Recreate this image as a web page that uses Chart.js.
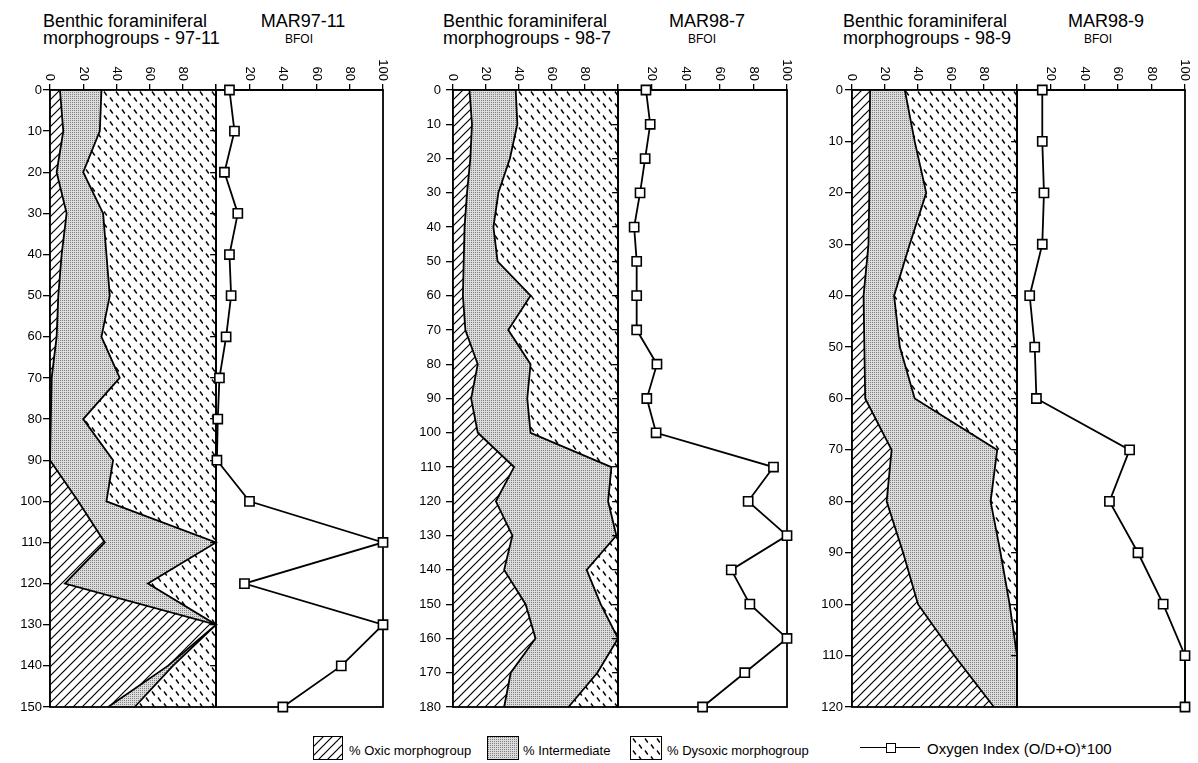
<!DOCTYPE html>
<html>
<head>
<meta charset="utf-8">
<title>Benthic foraminiferal morphogroups and BFOI</title>
<script src="https://cdn.jsdelivr.net/npm/chart.js@4.4.1/dist/chart.umd.min.js"></script>
<style>
  body { margin: 0; background: #fff; }
  #fig { position: relative; width: 1198px; height: 763px; overflow: hidden;
         font-family: "Liberation Sans", Arial, Helvetica, sans-serif; color: #000; }
  #fig canvas { position: absolute; }
  .title { position: absolute; font-size: 18px; line-height: 17px; white-space: nowrap; }
  .core { position: absolute; width: 200px; text-align: center; font-size: 18px; line-height: 17px; }
  .sub { position: absolute; width: 100px; text-align: center; font-size: 12px; line-height: 14px; }
  .swatch { position: absolute; top: 736px; height: 22px; border: 1.5px solid #000; box-sizing: content-box; }
  .leg { position: absolute; top: 744px; font-size: 13px; line-height: 13px; white-space: nowrap; }
</style>
</head>
<body>
<div id="fig">
  <div class="title" style="left:43px;top:13px">Benthic foraminiferal<br>morphogroups - 97-11</div>
  <div class="core" style="left:203px;top:13px">MAR97-11</div>
  <div class="sub" style="left:249px;top:32px">BFOI</div>

  <div class="title" style="left:443px;top:13px">Benthic foraminiferal<br>morphogroups - 98-7</div>
  <div class="core" style="left:607px;top:13px">MAR98-7</div>
  <div class="sub" style="left:652px;top:32px">BFOI</div>

  <div class="title" style="left:843px;top:13px">Benthic foraminiferal<br>morphogroups - 98-9</div>
  <div class="core" style="left:1006px;top:13px">MAR98-9</div>
  <div class="sub" style="left:1048px;top:32px">BFOI</div>

  <canvas id="m1"></canvas><canvas id="b1"></canvas>
  <canvas id="m2"></canvas><canvas id="b2"></canvas>
  <canvas id="m3"></canvas><canvas id="b3"></canvas>

  <div class="swatch" id="sw1" style="left:313px;width:28px"></div>
  <div class="leg" style="left:349px">% Oxic morphogroup</div>
  <div class="swatch" id="sw2" style="left:487px;width:30px"></div>
  <div class="leg" style="left:523px">% Intermediate</div>
  <div class="swatch" id="sw3" style="left:630px;width:30px"></div>
  <div class="leg" style="left:667px">% Dysoxic morphogroup</div>
  <div style="position:absolute;left:860px;top:747px;width:60px;border-top:1.5px solid #000"></div>
  <div style="position:absolute;left:886px;top:743px;width:8px;height:8px;border:1.5px solid #000;background:#fff"></div>
  <div class="leg" style="left:927px;top:741px;font-size:15px;line-height:15px">Oxygen Index (O/D+O)*100</div>
</div>

<script>
const FONT = '"Liberation Sans", Arial, Helvetica, sans-serif'

// MAR97-11, sample depths (cm) and morphogroup percentages
const depths9711 = [0, 10, 20, 30, 40, 50, 60, 70, 80, 90, 100, 110, 120, 130, 140, 150]
const oxic9711   = [6, 8, 4, 10, 7, 5, 4, 1, 0.5, 0, 17, 33, 9, 100, 71, 35]
const inter9711  = [25, 22, 16, 22, 27, 31, 27, 41, 19.5, 38, 17, 67, 50, 0, 3, 16]
const dysox9711  = [69, 70, 80, 68, 66, 64, 69, 58, 80, 62, 66, 0, 41, 0, 26, 49]
const bfoi9711   = [8, 11, 5, 13, 8, 9, 6, 2, 1, 0.5, 20, 100, 17, 100, 75, 40]

// MAR98-7
const depths987 = [0, 10, 20, 30, 40, 50, 60, 70, 80, 90, 100, 110, 120, 130, 140, 150, 160, 170, 180]
const oxic987   = [10, 11.5, 10.5, 8.5, 7, 6.5, 6, 7.5, 15, 11, 15, 37, 26, 36, 31, 44, 50, 35, 31]
const inter987  = [28, 27.5, 24, 19, 17.5, 20.5, 41, 26, 32, 34, 32, 59, 68, 63, 50, 45.5, 50, 52.5, 39]
const dysox987  = [62, 61, 65.5, 72.5, 75.5, 73, 53, 66.5, 53, 55, 53, 4, 6, 1, 19, 10.5, 0, 12.5, 30]
const bfoi987   = [16.5, 19, 16, 13, 9.5, 11, 11, 11, 23, 17, 22.5, 92, 77, 100, 67, 78, 100, 75, 50]

// MAR98-9
const depths989 = [0, 10, 20, 30, 40, 50, 60, 70, 80, 90, 100, 110, 120]
const oxic989   = [11, 10.5, 10.5, 10, 7, 7.5, 8, 24, 21, 31, 40, 62, 86]
const inter989  = [21, 27.5, 34.5, 25, 18.5, 21.5, 30, 64, 63, 59, 55.5, 38, 14]
const dysox989  = [68, 62, 55, 65, 74.5, 71, 62, 12, 16, 10, 4.5, 0, 0]
const bfoi989   = [15, 15, 16, 15, 7.5, 10.5, 11.5, 67, 55, 72, 87, 100, 100]

const morphoTicks = [0, 20, 40, 60, 80]
const bfoiTicks = [20, 40, 60, 80, 100]

// page layout of the three panels (px)
const panels = [
  { n: 1, left: 50, split: 216, right: 383, depthMax: 150, labelPad: 1,
    depths: depths9711, oxic: oxic9711, inter: inter9711, dysox: dysox9711, bfoi: bfoi9711 },
  { n: 2, left: 453, split: 618, right: 787, depthMax: 180, labelPad: 5,
    depths: depths987, oxic: oxic987, inter: inter987, dysox: dysox987, bfoi: bfoi987 },
  { n: 3, left: 852, split: 1017, right: 1185, depthMax: 120, labelPad: 2,
    depths: depths989, oxic: oxic989, inter: inter989, dysox: dysox989, bfoi: bfoi989 },
]

const TOP = 60
const HEIGHT = 660
const AXIS_W = 50
const LW = 1.8

function tile(size, draw) {
  const c = document.createElement("canvas")
  c.width = c.height = size
  draw(c.getContext("2d"), size)
  return c
}

const hatchTile = tile(9, (g, s) => {
  g.fillStyle = "#fff"
  g.fillRect(0, 0, s, s)
  g.strokeStyle = "#000"
  g.lineWidth = 1.2
  g.beginPath()
  g.moveTo(0, s); g.lineTo(s, 0)
  g.moveTo(-1, 1); g.lineTo(1, -1)
  g.moveTo(s - 1, s + 1); g.lineTo(s + 1, s - 1)
  g.stroke()
})

const dotTile = tile(2, (g, s) => {
  g.fillStyle = "#dcdcdc"
  g.fillRect(0, 0, s, s)
  g.fillStyle = "#808080"
  g.fillRect(0, 0, 1, 1)
})

const dashTile = tile(12, (g, s) => {
  g.fillStyle = "#fff"
  g.fillRect(0, 0, s, s)
  g.strokeStyle = "#000"
  g.lineWidth = 1.4
  g.beginPath()
  g.moveTo(2, 1.5); g.lineTo(4.8, 5.5)
  g.moveTo(8, 7.5); g.lineTo(10.8, 11.5)
  g.stroke()
})

const pctx = document.createElement("canvas").getContext("2d")
const HATCH = pctx.createPattern(hatchTile, "repeat")
const DOTS = pctx.createPattern(dotTile, "repeat")
const DASH = pctx.createPattern(dashTile, "repeat")

document.getElementById("sw1").style.background = `url(${hatchTile.toDataURL()})`
document.getElementById("sw2").style.background = `url(${dotTile.toDataURL()})`
document.getElementById("sw3").style.background = `url(${dashTile.toDataURL()})`

const pts = (depths, vals) => depths.map((d, i) => ({ x: vals[i], y: d }))

// rotated labels above the top axis
const topLabels = {
  id: "topLabels",
  afterDraw(chart, args, opts) {
    const { ctx, chartArea } = chart
    const sx = chart.scales.x
    ctx.save()
    ctx.font = `13px ${FONT}`
    ctx.fillStyle = "#000"
    ctx.textAlign = "right"
    ctx.textBaseline = "middle"
    opts.values.forEach((v) => {
      ctx.save()
      ctx.translate(sx.getPixelForValue(v), chartArea.top - 9)
      ctx.rotate(Math.PI / 2)
      ctx.fillText(String(v), 0, 0)
      ctx.restore()
    })
    ctx.restore()
  },
}

// box round the plot area
function strokeFrame(chart) {
  const { ctx, chartArea: a } = chart
  ctx.save()
  ctx.strokeStyle = "#000"
  ctx.lineWidth = LW
  ctx.strokeRect(a.left, a.top, a.right - a.left, a.bottom - a.top)
  ctx.restore()
}
const frame = {
  id: "frame",
  beforeDatasetsDraw(chart, args, opts) { if (!opts.late) strokeFrame(chart) },
  afterDatasetsDraw(chart, args, opts) { if (opts.late) strokeFrame(chart) },
}

const tickGrid = { drawOnChartArea: false, drawTicks: true, tickLength: 6, color: "#000", lineWidth: 1.3 }
const axisBorder = { display: true, color: "#000", width: LW }

function place(cv, left, width) {
  cv.width = width
  cv.height = HEIGHT
  cv.style.left = left + "px"
  cv.style.top = TOP + "px"
}

function morphoChart(p) {
  const cv = document.getElementById("m" + p.n)
  const left = p.left - AXIS_W
  place(cv, left, p.split + 2 - left)
  const line = { borderColor: "#000", borderWidth: LW, pointRadius: 0, tension: 0, clip: false }
  return new Chart(cv, {
    type: "line",
    data: {
      datasets: [
        { ...line, label: "% Oxic morphogroup", data: pts(p.depths, p.oxic), fill: "origin", backgroundColor: HATCH },
        { ...line, label: "% Intermediate", data: pts(p.depths, p.inter), fill: "-1", backgroundColor: DOTS },
        { ...line, label: "% Dysoxic morphogroup", data: pts(p.depths, p.dysox), fill: "-1", backgroundColor: DASH },
      ],
    },
    options: {
      responsive: false,
      animation: false,
      indexAxis: "y",
      layout: { padding: { left: 0, right: 2, top: 0, bottom: 13 } },
      scales: {
        x: {
          type: "linear", position: "top", min: 0, max: 100, stacked: true,
          ticks: { display: false, stepSize: 20 },
          grid: tickGrid, border: axisBorder,
          afterFit: (s) => { s.height = 30 },
        },
        y: {
          type: "linear", reverse: true, min: 0, max: p.depthMax,
          ticks: { stepSize: 10, color: "#000", font: { family: FONT, size: 13 }, padding: p.labelPad },
          grid: { ...tickGrid, tickLength: 7 }, border: axisBorder,
          afterFit: (s) => { s.width = AXIS_W },
        },
      },
      plugins: {
        legend: { display: false },
        tooltip: { enabled: false },
        topLabels: { values: morphoTicks },
        frame: { late: true },
      },
    },
    plugins: [topLabels, frame],
  })
}

function bfoiChart(p) {
  const cv = document.getElementById("b" + p.n)
  const left = p.split - 8
  place(cv, left, p.right + 9 - left)
  return new Chart(cv, {
    type: "line",
    data: {
      datasets: [{
        label: "Oxygen Index (O/D+O)*100",
        data: pts(p.depths, p.bfoi),
        borderColor: "#000",
        borderWidth: LW,
        tension: 0,
        fill: false,
        clip: false,
        pointStyle: "rect",
        pointRadius: 6.5,
        pointBackgroundColor: "#fff",
        pointBorderColor: "#000",
        pointBorderWidth: 1.6,
      }],
    },
    options: {
      responsive: false,
      animation: false,
      indexAxis: "y",
      layout: { padding: { left: 0, right: 9, top: 0, bottom: 13 } },
      scales: {
        x: {
          type: "linear", position: "top", min: 0, max: 100,
          ticks: { display: false, stepSize: 20 },
          grid: tickGrid, border: axisBorder,
          afterFit: (s) => { s.height = 30 },
        },
        y: {
          type: "linear", reverse: true, min: 0, max: p.depthMax,
          ticks: { display: false, stepSize: 10 },
          grid: tickGrid, border: axisBorder,
          afterFit: (s) => { s.width = 8 },
        },
      },
      plugins: {
        legend: { display: false },
        tooltip: { enabled: false },
        topLabels: { values: bfoiTicks },
        frame: { late: false },
      },
    },
    plugins: [topLabels, frame],
  })
}

panels.forEach((p) => {
  morphoChart(p)
  bfoiChart(p)
})
</script>
</body>
</html>
